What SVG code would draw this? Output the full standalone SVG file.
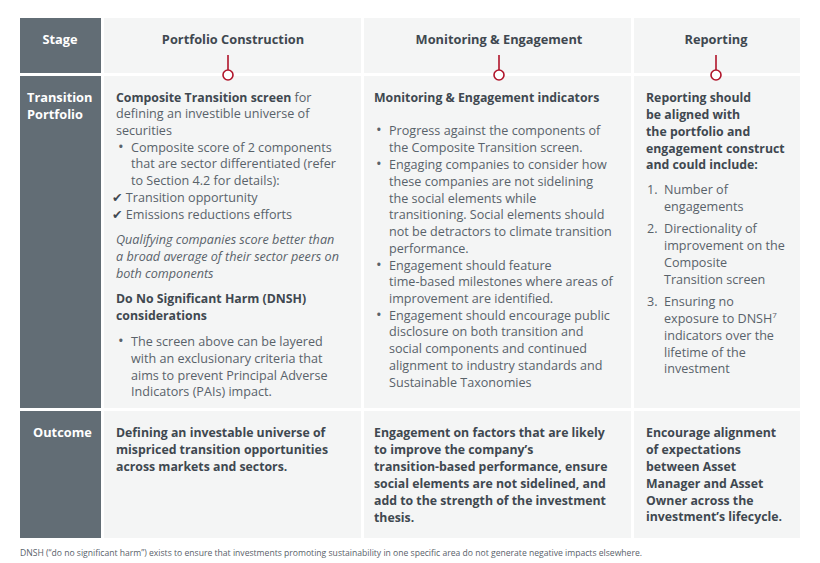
<svg xmlns="http://www.w3.org/2000/svg" width="820" height="563" viewBox="0 0 820 563">
<style>
text{font-family:"Open Sans","Liberation Sans",sans-serif;font-size:12.6px;fill:#59626a}
.b{font-weight:bold;fill:#3f4850;font-size:12.3px}
.h{font-weight:bold;fill:#3f4850;font-size:12.8px}
.w{font-weight:bold;fill:#fff;font-size:12.8px}
.i{font-style:italic}
.cell{fill:#f4f5f5}
.lab{fill:#626d75}
.ck{font-family:"DejaVu Sans",sans-serif;fill:#3f4850}
.bu{font-size:15px}
</style>
<rect width="820" height="563" fill="#fff"/>
<g id="grid">
<rect class="lab" x="20" y="18" width="81" height="55"/>
<rect class="cell" x="104" y="18" width="257" height="55"/>
<rect class="cell" x="364" y="18" width="267" height="55"/>
<rect class="cell" x="634" y="18" width="166" height="55"/>
<rect class="lab" x="20" y="76" width="81" height="332"/>
<rect class="cell" x="104" y="76" width="257" height="332"/>
<rect class="cell" x="364" y="76" width="267" height="332"/>
<rect class="cell" x="634" y="76" width="166" height="332"/>
<rect class="lab" x="20" y="411" width="81" height="127"/>
<rect class="cell" x="104" y="411" width="257" height="127"/>
<rect class="cell" x="364" y="411" width="267" height="127"/>
<rect class="cell" x="634" y="411" width="166" height="127"/>
</g>
<g id="connectors" stroke="#b0142a" fill="#fff" stroke-width="1.6">
<line x1="228" y1="55" x2="228" y2="70"/><circle cx="228" cy="75" r="5"/>
<line x1="499" y1="55" x2="499" y2="70"/><circle cx="499" cy="75" r="5"/>
<line x1="716" y1="55" x2="716" y2="70"/><circle cx="716" cy="75" r="5"/>
</g>
<g id="header">
<text class="w" x="60" y="44" text-anchor="middle">Stage</text>
<text class="h" x="233" y="44" text-anchor="middle">Portfolio Construction</text>
<text class="h" x="499" y="44" text-anchor="middle">Monitoring &amp; Engagement</text>
<text class="h" x="716" y="44" text-anchor="middle">Reporting</text>
<text class="w" x="27" y="102">Transition</text>
<text class="w" x="27" y="119">Portfolio</text>
<text class="w" x="33" y="437">Outcome</text>
</g>
<g id="portfolio">
<text x="116" y="102"><tspan class="b">Composite Transition screen</tspan> for</text>
<text x="116" y="118">defining an investible universe of</text>
<text x="116" y="135">securities</text>
<text class="bu" x="118" y="152">•</text><text x="131" y="152">Composite score of 2 components</text>
<text x="131" y="168">that are sector differentiated (refer</text>
<text x="131" y="185">to Section 4.2 for details):</text>
<text x="112" y="202"><tspan class="ck">✔</tspan> Transition opportunity</text>
<text x="112" y="219"><tspan class="ck">✔</tspan> Emissions reductions efforts</text>
<text class="i" x="116" y="244">Qualifying companies score better than</text>
<text class="i" x="116" y="261">a broad average of their sector peers on</text>
<text class="i" x="116" y="278">both components</text>
<text class="b" x="116" y="303">Do No Significant Harm (DNSH)</text>
<text class="b" x="116" y="320">considerations</text>
<text class="bu" x="118" y="346">•</text><text x="131" y="346">The screen above can be layered</text>
<text x="131" y="363">with an exclusionary criteria that</text>
<text x="131" y="380">aims to prevent Principal Adverse</text>
<text x="131" y="396">Indicators (PAIs) impact.</text>
</g>
<g id="monitoring">
<text class="b" x="374" y="102">Monitoring &amp; Engagement indicators</text>
<text class="bu" x="376" y="135">•</text><text x="389" y="135">Progress against the components of</text>
<text x="389" y="152">the Composite Transition screen.</text>
<text class="bu" x="376" y="169">•</text><text x="389" y="169">Engaging companies to consider how</text>
<text x="389" y="186">these companies are not sidelining</text>
<text x="389" y="203">the social elements while</text>
<text x="389" y="219">transitioning. Social elements should</text>
<text x="389" y="236">not be detractors to climate transition</text>
<text x="389" y="253">performance.</text>
<text class="bu" x="376" y="270">•</text><text x="389" y="270">Engagement should feature</text>
<text x="389" y="286">time-based milestones where areas of</text>
<text x="389" y="303">improvement are identified.</text>
<text class="bu" x="376" y="320">•</text><text x="389" y="320">Engagement should encourage public</text>
<text x="389" y="336">disclosure on both transition and</text>
<text x="389" y="353">social components and continued</text>
<text x="389" y="370">alignment to industry standards and</text>
<text x="389" y="387">Sustainable Taxonomies</text>
</g>
<g id="reporting">
<text class="b" x="646" y="102">Reporting should</text>
<text class="b" x="646" y="119">be aligned with</text>
<text class="b" x="646" y="136">the portfolio and</text>
<text class="b" x="646" y="153">engagement construct</text>
<text class="b" x="646" y="169">and could include:</text>
<text x="647" y="194">1.</text><text x="664" y="194">Number of</text>
<text x="664" y="211">engagements</text>
<text x="647" y="233">2.</text><text x="664" y="233">Directionality of</text>
<text x="664" y="250">improvement on the</text>
<text x="664" y="267">Composite</text>
<text x="664" y="284">Transition screen</text>
<text x="647" y="306">3.</text><text x="664" y="306">Ensuring no</text>
<text x="664" y="323">exposure to DNSH<tspan font-size="8" dy="-5">7</tspan></text>
<text x="664" y="340">indicators over the</text>
<text x="664" y="357">lifetime of the</text>
<text x="664" y="373">investment</text>
</g>
<g id="outcome">
<text class="b" x="116" y="437">Defining an investable universe of</text>
<text class="b" x="116" y="454">mispriced transition opportunities</text>
<text class="b" x="116" y="471">across markets and sectors.</text>
<text class="b" x="374" y="437">Engagement on factors that are likely</text>
<text class="b" x="374" y="454">to improve the company’s</text>
<text class="b" x="374" y="471">transition-based performance, ensure</text>
<text class="b" x="374" y="488">social elements are not sidelined, and</text>
<text class="b" x="374" y="505">add to the strength of the investment</text>
<text class="b" x="374" y="522">thesis.</text>
<text class="b" x="646" y="437">Encourage alignment</text>
<text class="b" x="646" y="454">of expectations</text>
<text class="b" x="646" y="471">between Asset</text>
<text class="b" x="646" y="488">Manager and Asset</text>
<text class="b" x="646" y="505">Owner across the</text>
<text class="b" x="646" y="521">investment’s lifecycle.</text>
</g>
<text x="20" y="556" style="font-size:8.6px">DNSH (“do no significant harm”) exists to ensure that investments promoting sustainability in one specific area do not generate negative impacts elsewhere.</text>
</svg>
